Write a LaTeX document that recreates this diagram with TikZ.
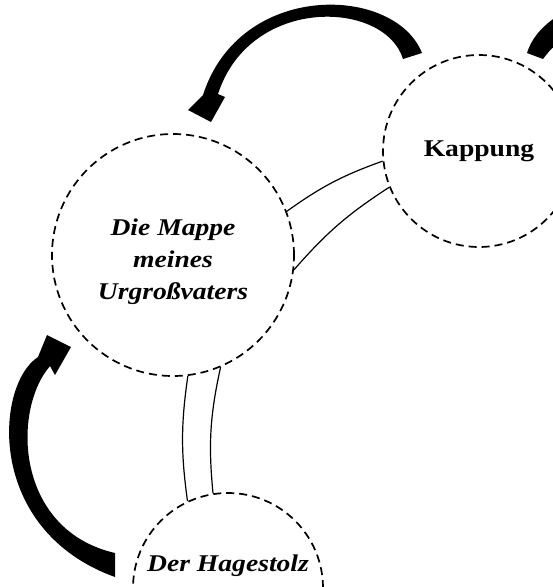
\documentclass[tikz,border=0pt]{standalone}
\usepackage{fontspec}
\newfontfamily\storyfont[FakeStretch=1.15]{Liberation Serif}
\usetikzlibrary{positioning}

\begin{document}
\begin{tikzpicture}[x=1pt, y=-1pt,
    every node/.style={font=\storyfont\fontsize{24}{32}\selectfont\bfseries},
    story/.style={circle, draw, dash pattern=on 8pt off 5pt, line width=1.7pt, inner sep=0pt},
    title/.style={align=center, font=\storyfont\fontsize{24}{32}\selectfont\bfseries\itshape},
    bridge/.style={line width=1.2pt}]
    \useasboundingbox (0,0) rectangle (553,587);
    \clip (0,0) rectangle (553,587);

    % Stories
    \node[story, minimum size=242pt] (mappe) at (173,255) {};
    \node[story, minimum size=192pt] (kappung) at (479,151) {Kappung};
    \node[story, minimum size=190pt] (hage) at (228,588) {};
    \node[title, below=7pt of mappe.center, anchor=center] (mappetext) {Die Mappe\\meines\\Urgroßvaters};
    \node[title, above=22pt of hage.center, anchor=center] (hagetext) {Der Hagestolz};

    % Bridges between the stories
    \draw[bridge] (mappe.21) to[bend left=8] (kappung.186);
    \draw[bridge] (mappe.-7) to[bend left=8] (kappung.202);
    \draw[bridge] (mappe.-83) to[bend right=8] (hage.115);
    \draw[bridge] (mappe.-67) to[bend right=9] (hage.99);

    % Kappung -> Mappe
    \fill (422,53) .. controls (395,-15) and (240,-20) .. (203,95)
        -- (188,110) -- (211,122) -- (225,97) -- (218,94)
        .. controls (250,-5) and (385,0) .. (403,59) -- cycle;

    % Kappung -> (outside)
    \fill (527,53) .. controls (531,40) and (540,28) .. (556,17)
        -- (556,45) .. controls (550,50) .. (543,59) -- cycle;

    % Hagestolz -> Mappe
    \fill (115,577) .. controls (-15,530) and (-5,385) .. (38,357)
        -- (47,335) -- (71,347) -- (55,375) -- (50,366)
        .. controls (12,410) and (15,530) .. (115,553) -- cycle;
\end{tikzpicture}
\end{document}
